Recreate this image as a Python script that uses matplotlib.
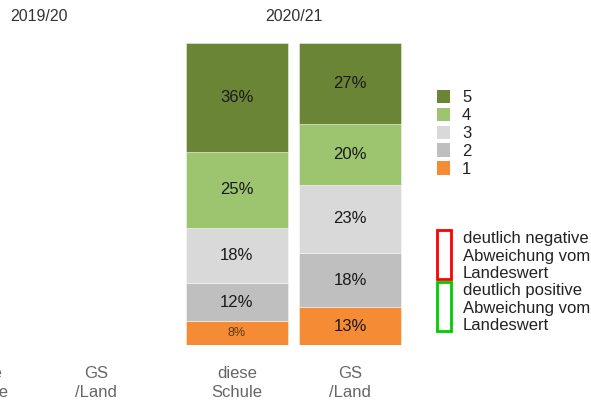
import matplotlib
matplotlib.use("Agg")
import matplotlib.pyplot as plt
from matplotlib.patches import Patch
import matplotlib.transforms as mtransforms

plt.rcParams['font.family'] = ['Liberation Sans', 'DejaVu Sans']

# --- Data ---
years = ['2019/20', '2020/21']
bar_labels = ['diese\nSchule', 'GS\n/Land', 'diese\nSchule', 'GS\n/Land']
grades = ['1', '2', '3', '4', '5']
# shares per grade (1..5) in percent, 2019/20 has no data
share_school_2021 = [8.1, 12.4, 18.3, 25.1, 36.1]
share_land_2021 = [12.6, 17.9, 22.6, 20.1, 26.8]
grade_colors = ['#f58b35', '#bfbfbf', '#d9d9d9', '#9dc46e', '#6a8535']

# --- Layout helpers ---
positions = [0, 1, 2.24, 3.24]
bar_width = 0.9
UNIT_PX = 113.5        # pixels per x unit
X_LEFT, X_RIGHT = -0.05, 5.4


def draw_stack(ax, x, shares):
    bottom = 0
    for i, val in enumerate(shares):
        ax.bar(x, val, bottom=bottom, width=bar_width, color=grade_colors[i],
               edgecolor=(1, 1, 1, 0.5), linewidth=0.6)
        label = f"{round(val)}%"
        if val < 10:
            ax.text(x, bottom + val / 2, label, ha='center', va='center',
                    fontsize=9, color='#5e3812')
        else:
            ax.text(x, bottom + val / 2, label, ha='center', va='center',
                    fontsize=12, color='#1a1a1a')
        bottom += val


fig = plt.figure(figsize=(5.91, 4.03), dpi=100)
# axes start left of the canvas so the first group is partly cut off (as in the original)
left_px = -17.5 + X_LEFT * UNIT_PX
width_px = (X_RIGHT - X_LEFT) * UNIT_PX
ax = fig.add_axes([left_px / 591, 0.1432, width_px / 591, 0.7509])

draw_stack(ax, positions[2], share_school_2021)
draw_stack(ax, positions[3], share_land_2021)

ax.set_xticks(positions)
ax.set_xticklabels(bar_labels, fontsize=12, color='#666666')
for lbl in ax.get_xticklabels():
    lbl.set_linespacing(1.35)
ax.tick_params(axis='x', length=0, pad=15)
ax.set_yticks([])
ax.set_xlim(X_LEFT, X_RIGHT)
ax.set_ylim(0, 100)
for s in ax.spines.values():
    s.set_visible(False)

# group titles
trans = mtransforms.blended_transform_factory(ax.transData, fig.transFigure)
ax.text((positions[0] + positions[1]) / 2, 1 - 16.5 / 403, years[0], transform=trans,
        ha='center', va='center', fontsize=11.5, color='#333333')
ax.text((positions[2] + positions[3]) / 2, 1 - 16.5 / 403, years[1], transform=trans,
        ha='center', va='center', fontsize=11.5, color='#333333')

# legend for grades
grade_handles = [Patch(facecolor=grade_colors[i], edgecolor='none') for i in range(4, -1, -1)]
grade_names = [grades[i] for i in range(4, -1, -1)]
leg1 = ax.legend(grade_handles, grade_names, loc='upper left',
                 bbox_to_anchor=(437 / 591, 1 - 90 / 403), bbox_transform=fig.transFigure,
                 frameon=False, fontsize=12, handlelength=0.8, handleheight=0.86,
                 handletextpad=0.7, labelspacing=0.14, borderaxespad=0, borderpad=0,
                 labelcolor='#222222')
ax.add_artist(leg1)

# legend for deviation markers
dev_handles = [Patch(facecolor='none', edgecolor='#ff0000', linewidth=2),
               Patch(facecolor='none', edgecolor='#00cc00', linewidth=2)]
dev_names = ['deutlich negative\nAbweichung vom\nLandeswert',
             'deutlich positive\nAbweichung vom\nLandeswert']
leg2 = ax.legend(dev_handles, dev_names, loc='upper left',
                 bbox_to_anchor=(437 / 591, 1 - 228 / 403), bbox_transform=fig.transFigure,
                 frameon=False, fontsize=12, handlelength=0.85, handleheight=4.14,
                 handletextpad=0.7, labelspacing=0.04, borderaxespad=0, borderpad=0,
                 labelcolor='#222222')
# nudge the three-line labels down a little so they sit inside the box height
nudge = mtransforms.ScaledTranslation(0, -3.5 / 100, fig.dpi_scale_trans)
for t in leg2.get_texts():
    t.set_linespacing(1.2)
    t.set_transform(t.get_transform() + nudge)

fig.savefig('out.png', dpi=100)
